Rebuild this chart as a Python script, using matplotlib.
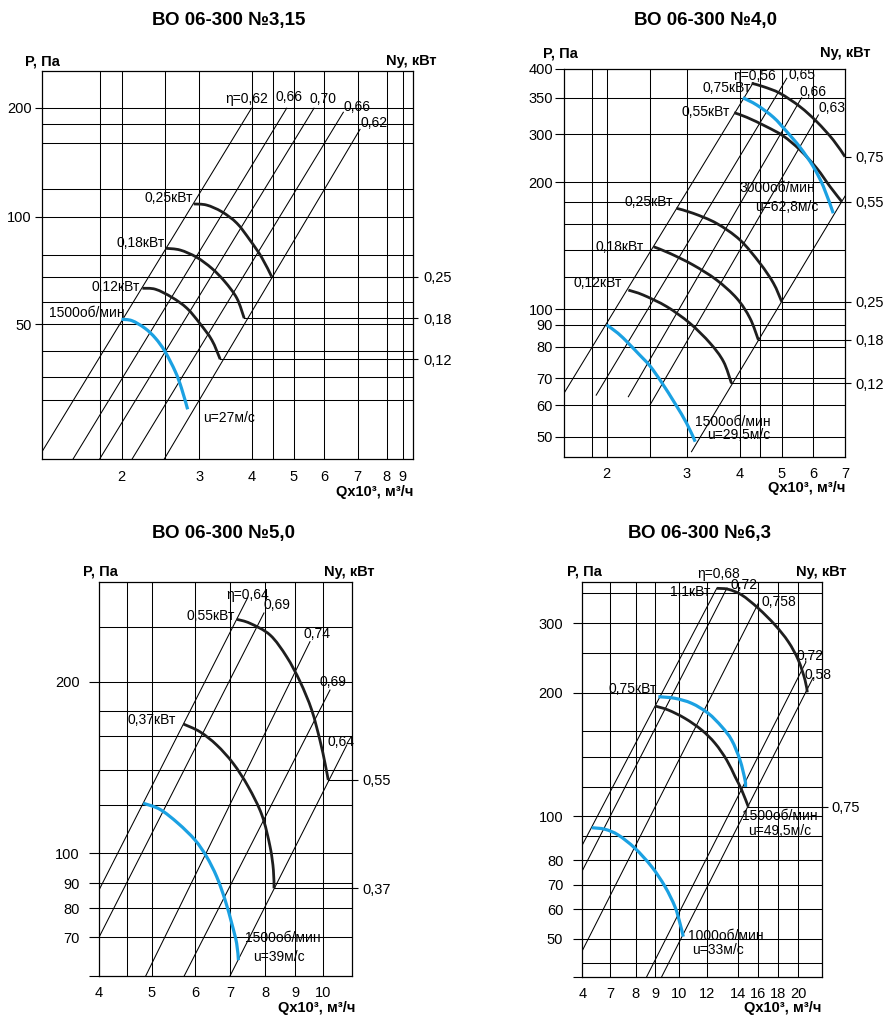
import numpy as np
import matplotlib
matplotlib.use('Agg')
import matplotlib.pyplot as plt
from matplotlib.path import Path
from matplotlib.patches import PathPatch

plt.rcParams['font.family'] = ['Liberation Sans', 'DejaVu Sans']

W, H = 892, 1024
BLUE = '#1ba1e2'
DARK = '#1e1e1e'

# ---------------- data: ВО 06-300 №3,15 ----------------
n315_title = 'ВО 06-300 №3,15'
n315_q_grid = [1.8, 2, 2.5, 3, 4, 4.5, 5, 6, 7, 8, 9]
n315_q_ticks = [2, 3, 4, 5, 6, 7, 8, 9]
n315_p_grid = [30, 35, 40, 50, 60, 70, 80, 100, 120, 160, 180, 200]
n315_p_ticks = [50, 100, 200]
n315_eta = ['η=0,62', '0,66', '0,70', '0,66', '0,62']
n315_eta_q = [[1.3, 4.0], [1.57, 4.83], [1.8, 5.66], [2.12, 6.57], [2.49, 7.08]]
n315_eta_p = [[21.2, 199.4], [20, 199.4], [20, 199.4], [20, 194.5], [20, 174.7]]
n315_kw025_q = [2.92, 3.14, 3.43, 3.72, 3.97, 4.24, 4.48]
n315_kw025_p = [109.2, 108.4, 103.6, 96.6, 87.8, 79, 70.3]
n315_kw018_q = [2.51, 2.72, 2.96, 3.24, 3.49, 3.72, 3.86]
n315_kw018_p = [83.5, 82.6, 79, 74, 68.2, 61.4, 52.7]
n315_kw012_q = [2.24, 2.39, 2.6, 2.82, 3.01, 3.24, 3.4]
n315_kw012_p = [65.5, 65.1, 61.8, 57.1, 50.4, 44.1, 38.4]
n315_rpm1500_q = [2.0, 2.12, 2.27, 2.39, 2.5, 2.65, 2.74, 2.83]
n315_rpm1500_p = [52.2, 51.6, 48.5, 44.8, 39.9, 36, 32.6, 28.5]
n315_kinds = ['kw', 'kw', 'kw', 'rpm']
n315_ny = ['0,25', '0,18', '0,12', None]
n315_notes = ['0,25кВт', '0,18кВт', '0,12кВт', '1500об/мин', 'u=27м/с']

# ---------------- data: ВО 06-300 №4,0 ----------------
n40_title = 'ВО 06-300 №4,0'
n40_q_grid = [1.8, 2, 2.5, 3, 4, 4.5, 5, 6]
n40_q_ticks = [2, 3, 4, 5, 6, 7]
n40_p_grid = [50, 60, 70, 80, 90, 100, 120, 140, 160, 180, 200, 300, 350]
n40_p_ticks = [50, 60, 70, 80, 90, 100, 200, 300, 350, 400]
n40_eta = ['η=0,56', '0,65', '0,66', '0,63', '']
n40_eta_q = [[1.6, 4.33], [1.86, 5.16], [2.25, 5.63], [2.5, 6.16], [3.09, 7.0]]
n40_eta_p = [[64.4, 376], [63.7, 383.8], [63.1, 350], [60, 326.4], [46.25, 186.1]]
n40_kw075_q = [4.29, 4.58, 4.96, 5.58, 6.11, 6.63, 7.0]
n40_kw075_p = [375.1, 369.2, 357.7, 337.7, 317.2, 288.1, 253.3]
n40_kw055_q = [3.89, 4.17, 4.65, 5.05, 5.58, 6.11, 6.53, 6.9]
n40_kw055_p = [329.5, 323.2, 310.4, 296.5, 267.3, 229.2, 195.6, 180.6]
n40_rpm3000_q = [4.07, 4.42, 4.81, 5.16, 5.58, 6.0, 6.32, 6.63]
n40_rpm3000_p = [350, 340, 323.2, 303.6, 272.9, 232.5, 195.6, 169.9]
n40_kw025_q = [2.86, 3.12, 3.56, 4.0, 4.5, 4.81, 5.0]
n40_kw025_p = [174.5, 169.9, 160.6, 147.7, 130, 116, 104.7]
n40_kw018_q = [2.55, 2.77, 3.12, 3.56, 3.94, 4.25, 4.46]
n40_kw018_p = [142.5, 137.5, 128.8, 118, 106.7, 94.3, 83.1]
n40_kw012_q = [2.25, 2.42, 2.73, 3.06, 3.44, 3.69, 3.84]
n40_kw012_p = [111.8, 108.8, 101.6, 91.1, 81.6, 75.3, 68.1]
n40_rpm1500_q = [2.0, 2.13, 2.25, 2.38, 2.5, 2.66, 2.84, 3.0, 3.16]
n40_rpm1500_p = [90, 86.2, 81.6, 77.4, 73.9, 68.4, 60.6, 54.2, 48.75]
n40_kinds = ['kw', 'kw', 'rpm', 'kw', 'kw', 'kw', 'rpm']
n40_ny = ['0,75', '0,55', None, '0,25', '0,18', '0,12', None]
n40_notes = ['0,75кВт', '0,55кВт', '3000об/мин', 'u=62,8м/с', '0,25кВт',
             '0,18кВт', '0,12кВт', '1500об/мин', 'u=29,5м/с']

# ---------------- data: ВО 06-300 №5,0 ----------------
n50_title = 'ВО 06-300 №5,0'
n50_q_grid = [4.5, 5, 6, 7, 8, 9, 10]
n50_q_ticks = [4, 5, 6, 7, 8, 9, 10]
n50_p_grid = [70, 80, 90, 100, 120, 140, 160, 180, 200, 250]
n50_p_ticks = [60, 70, 80, 90, 100, 200]
n50_p_tick_labels = ['', '70', '80', '90', '100', '200']
n50_eta = ['η=0,64', '0,69', '0,74', '0,69', '0,64']
n50_eta_q = [[4, 7.5], [4, 7.97], [4.88, 9.53], [5.75, 10.23], [7, 10.81]]
n50_eta_p = [[87.3, 282.1], [70, 265.7], [60, 236.8], [60, 194.3], [60, 154.7]]
n50_kw055_q = [7.19, 7.57, 8.17, 8.72, 9.18, 9.59, 9.88, 10.06, 10.17]
n50_kw055_p = [258.8, 254.4, 242.9, 223, 200, 180.7, 157.6, 143.9, 134.3]
n50_kw037_q = [5.73, 6.14, 6.62, 7.09, 7.52, 7.91, 8.17, 8.28, 8.3]
n50_kw037_p = [169.6, 163.4, 154.7, 143.9, 130.5, 115.9, 102.7, 94.4, 88]
n50_rpm1500_q = [4.83, 5.19, 5.61, 6.0, 6.33, 6.62, 6.86, 7.05, 7.19, 7.24]
n50_rpm1500_p = [121, 118.2, 112.4, 105.5, 98.9, 92.2, 83.3, 74.8, 68.45, 64.1]
n50_kinds = ['kw', 'kw', 'rpm']
n50_ny = ['0,55', '0,37', None]
n50_notes = ['0,55кВт', '0,37кВт', '1500об/мин', 'u=39м/с']

# ---------------- data: ВО 06-300 №6,3 ----------------
n63_title = 'ВО 06-300 №6,3'
n63_q_grid = [7, 8, 9, 10, 12, 14, 16, 18, 20]
n63_q_ticks = [4, 7, 8, 9, 10, 12, 14, 16, 18, 20]
n63_p_grid = [45, 50, 60, 70, 80, 90, 100, 120, 140, 160, 200, 250, 300, 350]
n63_p_ticks = [40, 50, 60, 70, 80, 100, 200, 300]
n63_p_tick_labels = ['', '50', '60', '70', '80', '100', '200', '300']
n63_eta = ['η=0,68', '0,72', '0,758', '0,72', '0,58']
n63_eta_q = [[4, 12.65], [4, 13.31], [4, 16], [8.57, 20.64], [9.28, 21.22]]
n63_eta_p = [[86.25, 363.6], [75.7, 364.5], [47.6, 333.3], [40, 239], [40, 218.7]]
n63_kw11_q = [12.65, 13.39, 14.39, 16, 17.67, 19, 20, 20.56, 20.75]
n63_kw11_p = [363.6, 360.9, 347.2, 325, 297.2, 269.3, 241.5, 216.1, 200.5]
n63_kw075_q = [9, 9.55, 10.43, 11.64, 12.54, 13.29, 13.83, 14.39, 15.03]
n63_kw075_p = [186, 181.8, 173, 160.7, 150.3, 137.8, 126.7, 117.7, 106.3]
n63_rpm1500_q = [9.14, 9.83, 10.92, 12.1, 12.97, 13.61, 14.22, 14.71, 14.76]
n63_rpm1500_p = [195.8, 194.1, 188.8, 178.3, 164.2, 152.8, 137.8, 124.5, 119.8]
n63_rpm1000_q = [5.02, 6.46, 7.32, 7.97, 8.83, 9.42, 9.83, 10.07, 10.31]
n63_rpm1000_p = [94.15, 93.35, 90.5, 84.9, 77.3, 69.3, 61.1, 55.3, 50.8]
n63_kinds = ['kw', 'kw', 'rpm', 'rpm']
n63_ny = [None, '0,75', None, None]
n63_notes = ['1,1кВт', '0,75кВт', '1500об/мин', 'u=49,5м/с', '1000об/мин', 'u=33м/с']

# ---------------- layout (pixels of the 892x1024 figure) ----------------
# scale anchors: axis value -> pixel position (the chart's own nomogram scale)
n315_xa = ([1.3, 1.8, 2, 2.5, 3, 4, 4.5, 5, 6, 7, 8, 9, 9.5],
           [41.7, 99.5, 121.5, 165, 199.3, 251.5, 272.5, 294, 324.3, 357.7, 386.7, 402.7, 412.7])
n315_ya = ([20, 30, 35, 40, 50, 60, 70, 80, 100, 120, 160, 180, 200, 250],
           [459.3, 400.5, 376.7, 351, 324.3, 301.7, 277.3, 255, 216.7, 189, 143.3, 124.3, 107.7, 71])
n40_xa = ([1.6, 1.8, 2, 2.5, 3, 4, 4.5, 5, 6, 7],
          [564, 591.7, 606.7, 650, 686.7, 740, 760, 781.7, 813.3, 845])
n40_ya = ([45, 50, 60, 70, 80, 90, 100, 120, 140, 160, 180, 200, 300, 350, 400],
          [456.7, 436.7, 405, 378.3, 346.7, 325, 309.3, 276.7, 250, 224, 202.3, 182.3, 134.3, 97.7, 69])
n50_xa = ([4, 4.5, 5, 6, 7, 8, 9, 10, 11],
          [99, 126.7, 151.7, 195, 230, 265, 295, 323.3, 352.3])
n50_ya = ([60, 70, 80, 90, 100, 120, 140, 160, 180, 200, 250, 300],
          [976, 937.3, 908.3, 883.3, 853.3, 805, 770, 736, 711, 681.7, 627.3, 581.7])
n63_xa = ([4, 7, 8, 9, 10, 12, 14, 16, 18, 20, 22],
          [582.3, 610, 635.7, 655, 679, 706.7, 737.7, 758.3, 778.3, 798.3, 822.3])
n63_ya = ([40, 45, 50, 60, 70, 80, 90, 100, 120, 140, 160, 200, 250, 300, 350, 380],
          [976.7, 963.3, 939, 909.3, 885, 860, 836, 816, 786.7, 756.7, 730.7, 692.7, 653.3, 623.3, 593.3, 582.3])

# label offsets in pixels: (curve index, point index, dx, dy, ha)
n315_note_pos = [(0, 0, -1.3, 5.7, 'right'), (1, 0, -1, 5, 'right'), (2, 0, -2.7, 1.6, 'right'),
                 (3, 0, 3.3, 6, 'right'), (3, -1, 15, -9, 'left')]
n40_note_pos = [(0, 0, -1, -5, 'right'), (1, 0, -4.3, 1, 'right'), (2, -1, -18.3, 25, 'right'),
                (2, -1, -15, 6.6, 'right'), (3, 0, -3.4, 6, 'right'), (4, 0, -10, 0, 'right'),
                (5, 0, -6.6, 6.7, 'right'), (6, -1, 0, 20, 'left'), (6, -1, 11.7, 6.7, 'left')]
n50_note_pos = [(0, 0, -1.7, 3.3, 'right'), (1, 0, -7.3, 4, 'right'),
                (2, -1, 6.7, 21.7, 'left'), (2, -1, 15, 3.3, 'left')]
n63_note_pos = [(0, 0, -6.7, -3.4, 'right'), (1, 0, 1.7, 16.7, 'right'),
                (1, -1, -6.6, -9.3, 'left'), (1, -1, 0, -24, 'left'),
                (3, -1, 5, 1, 'left'), (3, -1, 8.4, -13, 'left')]
n315_eta_pos = [(-26.7, 9.3), (-10.7, 11), (-4, 9.6), (0, 5.6), (0, 6)]
n40_eta_pos = [(-20.3, 6.7), (1.6, 3.3), (-1.7, 5.6), (0, 6.7), (0, 0)]
n50_eta_pos = [(-20.8, 3), (-0.7, 8), (-6.7, 7.7), (-10, 8.3), (-19.4, 3.3)]
n63_eta_pos = [(-20, 14), (3, 3), (3.4, 1.6), (-9.3, 6), (-8, 3)]

panels = [
    dict(title=n315_title, xa=n315_xa, ya=n315_ya,
         q_grid=n315_q_grid, p_grid=n315_p_grid, q_ticks=n315_q_ticks,
         p_ticks=n315_p_ticks, p_labels=[str(v) for v in n315_p_ticks],
         eta=n315_eta, eta_q=n315_eta_q, eta_p=n315_eta_p, eta_pos=n315_eta_pos,
         curves=[(n315_kw025_q, n315_kw025_p), (n315_kw018_q, n315_kw018_p),
                 (n315_kw012_q, n315_kw012_p), (n315_rpm1500_q, n315_rpm1500_p)],
         kinds=n315_kinds, ny=n315_ny, notes=n315_notes, note_pos=n315_note_pos,
         t_xy=(229, 20.7), p_xy=(25, 61), ny_xy=(437, 61), q_xy=(413, 491.7),
         ytick=(6.7, 3.3), nytick=(5.3, 5.3)),
    dict(title=n40_title, xa=n40_xa, ya=n40_ya,
         q_grid=n40_q_grid, p_grid=n40_p_grid, q_ticks=n40_q_ticks,
         p_ticks=n40_p_ticks, p_labels=[str(v) for v in n40_p_ticks],
         eta=n40_eta, eta_q=n40_eta_q, eta_p=n40_eta_p, eta_pos=n40_eta_pos,
         curves=[(n40_kw075_q, n40_kw075_p), (n40_kw055_q, n40_kw055_p),
                 (n40_rpm3000_q, n40_rpm3000_p), (n40_kw025_q, n40_kw025_p),
                 (n40_kw018_q, n40_kw018_p), (n40_kw012_q, n40_kw012_p),
                 (n40_rpm1500_q, n40_rpm1500_p)],
         kinds=n40_kinds, ny=n40_ny, notes=n40_notes, note_pos=n40_note_pos,
         t_xy=(705, 20.7), p_xy=(543.3, 53.3), ny_xy=(870, 53.3), q_xy=(845, 488.3),
         ytick=(9, 2), nytick=(6, 4)),
    dict(title=n50_title, xa=n50_xa, ya=n50_ya,
         q_grid=n50_q_grid, p_grid=n50_p_grid, q_ticks=n50_q_ticks,
         p_ticks=n50_p_ticks, p_labels=n50_p_tick_labels,
         eta=n50_eta, eta_q=n50_eta_q, eta_p=n50_eta_p, eta_pos=n50_eta_pos,
         curves=[(n50_kw055_q, n50_kw055_p), (n50_kw037_q, n50_kw037_p),
                 (n50_rpm1500_q, n50_rpm1500_p)],
         kinds=n50_kinds, ny=n50_ny, notes=n50_notes, note_pos=n50_note_pos,
         t_xy=(223.3, 533.3), p_xy=(82.7, 571.7), ny_xy=(375, 571.7), q_xy=(355, 1008.3),
         ytick=(10, 9), nytick=(6, 4.4)),
    dict(title=n63_title, xa=n63_xa, ya=n63_ya,
         q_grid=n63_q_grid, p_grid=n63_p_grid, q_ticks=n63_q_ticks,
         p_ticks=n63_p_ticks, p_labels=n63_p_tick_labels,
         eta=n63_eta, eta_q=n63_eta_q, eta_p=n63_eta_p, eta_pos=n63_eta_pos,
         curves=[(n63_kw11_q, n63_kw11_p), (n63_kw075_q, n63_kw075_p),
                 (n63_rpm1500_q, n63_rpm1500_p), (n63_rpm1000_q, n63_rpm1000_p)],
         kinds=n63_kinds, ny=n63_ny, notes=n63_notes, note_pos=n63_note_pos,
         t_xy=(700, 533.3), p_xy=(566.7, 571.7), ny_xy=(846.7, 571.7), q_xy=(821.7, 1008.3),
         ytick=(9, 10), nytick=(6, 3.4)),
]

PT = 0.72  # points per pixel at dpi 100


def nomo_scale(vals, pos):
    vals = np.asarray(vals, float)
    pos = np.asarray(pos, float)
    fwd = lambda v: np.interp(v, vals, pos)
    inv = lambda u: np.interp(u, pos, vals)
    return fwd, inv


def smooth_curve(ax, q, p, **kw):
    # read points go through the axes scale; drawn as a smooth Bezier through them
    pts = ax.transScale.transform(np.column_stack([q, p]))
    n = len(pts)
    verts, codes = [pts[0]], [Path.MOVETO]
    for i in range(n - 1):
        p0, p1 = pts[max(i - 1, 0)], pts[i]
        p2, p3 = pts[i + 1], pts[min(i + 2, n - 1)]
        verts += [p1 + (p2 - p0) / 6, p2 - (p3 - p1) / 6, p2]
        codes += [Path.CURVE4] * 3
    patch = PathPatch(Path(verts, codes), fill=False, capstyle='butt',
                      transform=ax.transLimits + ax.transAxes, **kw)
    ax.add_patch(patch)


fig = plt.figure(figsize=(W / 100, H / 100), dpi=100)

for pn in panels:
    xv, xp = pn['xa']
    yv, yp = pn['ya']
    left, right = xp[0], xp[-1]
    top, bottom = yp[-1], yp[0]
    ax = fig.add_axes([left / W, 1 - bottom / H, (right - left) / W, (bottom - top) / H])
    ax.set_xscale('function', functions=nomo_scale(xv, xp))
    ax.set_yscale('function', functions=nomo_scale(yv, [-v for v in yp]))
    ax.set_xlim(xv[0], xv[-1])
    ax.set_ylim(yv[0], yv[-1])
    for s in ax.spines.values():
        s.set_linewidth(0.9)

    for q in pn['q_grid']:
        ax.axvline(q, color='k', lw=0.75, zorder=1)
    for p in pn['p_grid']:
        ax.axhline(p, color='k', lw=0.75, zorder=1)

    ax.set_xticks(pn['q_ticks'], labels=[str(v) for v in pn['q_ticks']])
    ax.set_yticks(pn['p_ticks'], labels=pn['p_labels'])
    ax.tick_params(axis='x', length=0, pad=7.5, labelsize=10.5)
    ax.tick_params(axis='y', direction='out', length=pn['ytick'][0] * PT,
                   pad=pn['ytick'][1] * PT, width=0.8, labelsize=10.5)

    # efficiency lines
    for lab, qq, pp, (dx, dy) in zip(pn['eta'], pn['eta_q'], pn['eta_p'], pn['eta_pos']):
        ax.plot(qq, pp, color='k', lw=0.75, zorder=2)
        if lab:
            ax.annotate(lab, xy=(qq[1], pp[1]), xytext=(dx, dy), textcoords='offset pixels',
                        ha='left', va='center', fontsize=10, annotation_clip=False)

    # characteristic curves
    ny_vals, ny_labs = [], []
    for (qq, pp), kind, ny in zip(pn['curves'], pn['kinds'], pn['ny']):
        if kind == 'rpm':
            smooth_curve(ax, qq, pp, edgecolor=BLUE, lw=2.3, zorder=4)
        else:
            smooth_curve(ax, qq, pp, edgecolor=DARK, lw=2.0, zorder=3)
        if ny:
            ax.plot([qq[-1], xv[-1]], [pp[-1], pp[-1]], color='k', lw=0.75, zorder=2)
            ny_vals.append(pp[-1])
            ny_labs.append(ny)

    for text, (ci, pi, dx, dy, ha) in zip(pn['notes'], pn['note_pos']):
        qq, pp = pn['curves'][ci]
        ax.annotate(text, xy=(qq[pi], pp[pi]), xytext=(dx, dy), textcoords='offset pixels',
                    ha=ha, va='center', fontsize=10, annotation_clip=False, zorder=5)

    # power axis on the right
    ax2 = ax.twinx()
    ax2.set_yscale('function', functions=nomo_scale(yv, [-v for v in yp]))
    ax2.set_ylim(yv[0], yv[-1])
    for s in ax2.spines.values():
        s.set_visible(False)
    ax2.set_yticks(ny_vals, labels=ny_labs)
    ax2.tick_params(axis='y', direction='out', length=pn['nytick'][0] * PT,
                    pad=pn['nytick'][1] * PT, width=0.8, labelsize=10.5)

    tx, ty = pn['t_xy']
    fig.text(tx / W, 1 - ty / H, pn['title'], ha='center', va='center',
             fontsize=13.5, fontweight='bold')
    px_, py_ = pn['p_xy']
    fig.text(px_ / W, 1 - py_ / H, 'P, Па', ha='left', va='center', fontsize=10.5, fontweight='bold')
    nx_, nyy = pn['ny_xy']
    fig.text(nx_ / W, 1 - nyy / H, 'Ny, кВт', ha='right', va='center', fontsize=10.5, fontweight='bold')
    qx_, qy_ = pn['q_xy']
    fig.text(qx_ / W, 1 - qy_ / H, 'Qx10³, м³/ч', ha='right', va='center', fontsize=10.5, fontweight='bold')

fig.savefig('out.png', dpi=100)
